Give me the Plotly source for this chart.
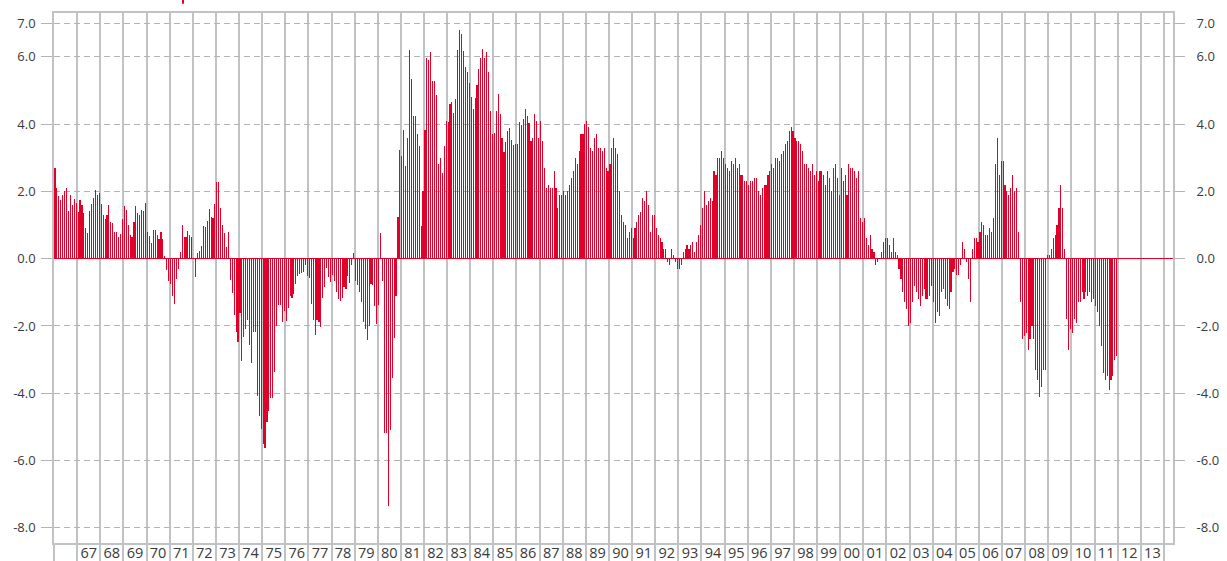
import plotly.graph_objects as go

start_year = 1966
end_year_axis = 2014.39

v1966_1970 = [2.68, 2.11, 1.85, 1.73, 1.88, 2.00, 2.11, 1.43, 1.88, 1.58, 1.76, 1.64,
              1.40, 1.73, 1.58, 1.37, 0.92, 0.77, 1.43, 1.61, 1.79, 2.05, 1.90, 1.96,
              1.61, 1.31, 1.19, 1.31, 1.58, 1.10, 1.07, 0.80, 0.80, 0.65, 0.74, 1.19,
              1.55, 1.46, 1.01, 0.71, 0.65, 1.10, 1.55, 1.37, 1.31, 1.46, 1.43, 1.65,
              0.80, 0.68, 0.48, 0.86, 0.86, 0.71, 0.57, 0.80, 0.57, 0.09, -0.33, -0.65]
v1971_1975 = [-0.74, -1.10, -1.34, -0.60, -0.30, 0.20, 1.01, 0.63, 0.65, 0.83, 0.71, 0.65,
              0.03, -0.54, 0.18, 0.24, 0.39, 0.98, 0.95, 1.13, 1.49, 1.25, 1.22, 1.61,
              2.29, 2.29, 1.52, 1.01, 0.77, 0.36, 0.80, -0.63, -1.01, -1.67, -2.17, -2.47,
              -1.61, -3.04, -2.32, -2.08, -1.82, -2.56, -3.10, -2.17, -2.17, -4.08, -4.67, -5.06,
              -5.51, -5.63, -4.86, -4.52, -4.14, -4.14, -3.36, -1.99, -1.37, -1.37, -1.88, -1.55]
v1976_1980 = [-1.85, -1.46, -1.10, -1.16, -1.04, -0.75, -0.51, -0.45, -0.42, -0.39, -0.18, -0.51,
              -0.57, -1.34, -1.82, -2.26, -1.82, -1.88, -2.02, -1.16, -0.83, -0.27, -0.54, -0.68,
              -0.48, -0.65, -0.98, -1.19, -1.25, -1.16, -0.83, -0.89, -0.51, -0.71, -0.18, 0.18,
              -0.65, -0.77, -0.98, -1.28, -1.88, -2.08, -2.41, -1.99, -0.74, -0.77, -1.40, -1.93,
              -1.37, 0.77, -0.65, -5.18, -5.18, -7.35, -5.09, -3.54, -2.35, -1.10, 1.25, 3.24]
v1981_1985 = [3.04, 3.81, 2.74, 3.60, 6.19, 5.33, 4.23, 4.23, 3.69, 3.36, 0.98, 2.02,
              3.81, 5.95, 5.89, 6.13, 5.27, 5.27, 4.85, 2.80, 2.98, 2.56, 3.36, 4.08,
              4.05, 4.61, 4.67, 4.32, 4.73, 6.19, 6.79, 6.68, 6.16, 5.71, 5.54, 5.21,
              4.79, 4.46, 4.76, 5.15, 5.63, 5.95, 6.22, 5.95, 6.13, 5.54, 4.40, 3.69,
              3.72, 4.38, 4.88, 4.29, 3.60, 3.18, 3.48, 3.78, 3.87, 3.54, 3.39, 3.42]
v1986_1990 = [3.42, 4.05, 3.96, 4.14, 4.46, 4.23, 4.02, 3.50, 3.60, 4.30, 4.10, 3.60,
              4.10, 3.50, 2.70, 2.10, 2.20, 2.10, 2.10, 2.60, 2.10, 1.50, 1.90, 1.90,
              2.00, 1.90, 2.00, 2.20, 2.40, 2.60, 3.00, 2.80, 3.20, 3.70, 3.70, 4.00,
              4.10, 3.90, 3.30, 3.20, 3.60, 3.70, 3.30, 3.30, 3.20, 3.30, 2.70, 2.60,
              2.80, 3.30, 3.60, 3.30, 3.10, 2.00, 1.30, 1.10, 1.00, 0.60, 0.80, 0.90]
v1991_1995 = [0.60, 0.90, 1.10, 1.30, 1.40, 1.80, 1.70, 2.00, 1.60, 0.80, 1.30, 1.30,
              0.90, 0.70, 0.60, 0.50, 0.30, 0.30, -0.10, -0.20, 0.30, 0.10, -0.10, -0.30,
              -0.30, -0.20, 0.20, 0.30, 0.40, 0.30, 0.40, 0.50, 0.20, 0.50, 0.70, 1.00,
              1.50, 2.00, 1.60, 1.70, 1.80, 1.70, 2.60, 2.50, 3.00, 3.00, 3.20, 3.00,
              2.80, 2.70, 2.60, 2.90, 2.80, 3.00, 2.70, 2.80, 2.50, 2.50, 2.30, 2.30]
v1996_2000 = [2.20, 2.30, 2.30, 2.40, 2.40, 2.00, 1.90, 2.10, 2.20, 2.20, 2.50, 2.60,
              2.80, 2.70, 3.00, 3.00, 2.90, 3.10, 3.20, 3.40, 3.50, 3.80, 3.90, 3.80,
              3.60, 3.50, 3.50, 3.40, 3.20, 2.80, 2.80, 2.70, 2.60, 2.80, 2.50, 2.60,
              2.30, 2.60, 2.60, 2.50, 2.20, 2.60, 2.40, 2.00, 2.70, 2.80, 2.40, 1.90,
              2.70, 2.30, 2.50, 1.90, 2.80, 2.70, 2.70, 2.60, 2.40, 2.60, 1.20, 1.10]
v2001_2005 = [1.20, 0.60, 0.40, 0.70, 0.30, 0.20, -0.20, -0.10, 0.00, 0.20, 0.50, 0.60,
              0.60, 0.40, 0.20, 0.60, 0.20, 0.10, -0.30, -0.60, -1.00, -1.30, -1.50, -2.00,
              -1.90, -1.30, -0.80, -1.00, -1.20, -1.40, -1.10, -0.90, -1.20, -1.20, -1.10, -0.80,
              -1.30, -1.90, -1.60, -1.70, -1.00, -0.90, -1.20, -1.40, -1.50, -1.00, -0.40, -0.30,
              -0.50, -0.50, -0.20, 0.50, 0.30, -0.10, -0.60, -1.30, 0.30, 0.60, 0.60, 0.50]
v2006_2011 = [0.80, 1.10, 1.00, 0.70, 0.70, 0.90, 0.80, 1.20, 2.80, 3.60, 2.50, 2.90,
              2.90, 2.20, 2.00, 1.90, 2.10, 2.50, 2.00, 2.10, 0.80, -1.30, -2.40, -2.30,
              -2.20, -2.70, -2.40, -2.00, -2.40, -3.30, -3.60, -4.10, -3.80, -3.30, -3.30, 0.10,
              0.10, 0.30, 0.60, 0.70, 1.00, 1.50, 2.20, 1.50, 0.30, -1.80, -2.70, -2.10,
              -2.20, -1.80, -1.90, -1.30, -1.30, -1.00, -1.20, -1.00, -1.10, -1.00, -1.30, -1.20,
              -1.40, -1.60, -2.00, -2.60, -3.40, -3.60, -3.50, -3.90, -3.60, -3.50, -3.00, -2.90]

values = v1966_1970 + v1971_1975 + v1976_1980 + v1981_1985 + v1986_1990 + v1991_1995 + v1996_2000 + v2001_2005 + v2006_2011
x_months = [start_year + (i + 0.5) / 12 for i in range(len(values))]

year_lines = list(range(1966, 2015))
year_label_years = list(range(1967, 2014))
year_labels = ["%02d" % (y % 100) for y in year_label_years]

y_ticks = [7, 6, 4, 2, 0, -2, -4, -6, -8]
y_tick_labels = ["7.0", "6.0", "4.0", "2.0", "0.0", "-2.0", "-4.0", "-6.0", "-8.0"]
y_range = [-8.45, 7.3]

RED = "rgba(225,0,40,0.999)"
RED_LINE = "#e10028"
GRID_V = "#bfc3c5"
GRID_H = "#b3b3b3"
TXT = "#3a3a3a"

fig = go.Figure()
fig.add_trace(go.Bar(x=x_months, y=values,
                     marker=dict(color=RED, line=dict(width=0)),
                     width=1.0 / 12 * 0.58, hoverinfo="x+y", showlegend=False))
fig.add_trace(go.Scatter(x=[x_months[0]], y=[values[0]], xaxis="x2", yaxis="y2",
                         mode="markers", marker=dict(opacity=0), showlegend=False, hoverinfo="skip"))

fig.update_layout(
    width=1227, height=561,
    margin=dict(l=54, r=54, t=13, b=18, autoexpand=False),
    paper_bgcolor="white", plot_bgcolor="white",
    font=dict(family="Open Sans", color=TXT, size=13),
    bargap=0, bargroupgap=0,
    xaxis=dict(range=[start_year, end_year_axis], tickvals=year_lines, showticklabels=False,
               ticks="outside", ticklen=18, tickcolor=GRID_V, tickwidth=1.5,
               showgrid=True, gridcolor=GRID_V, gridwidth=1.5, automargin=False,
               showline=True, linecolor=GRID_V, linewidth=1.5, mirror=True, zeroline=False),
    xaxis2=dict(range=[start_year, end_year_axis], overlaying="x", anchor="y", side="bottom",
                tickvals=[y + 0.5 for y in year_label_years], ticktext=year_labels,
                ticks="", showgrid=False, showline=False, zeroline=False, automargin=False,
                tickfont=dict(size=14.5, color=TXT), ticklabelstandoff=-1),
    yaxis=dict(range=y_range, tickvals=y_ticks, ticktext=y_tick_labels,
               ticks="outside", ticklen=11, tickcolor=GRID_H, tickwidth=1,
               showgrid=True, gridcolor=GRID_H, gridwidth=1, griddash="6px,4px",
               zeroline=True, zerolinecolor=RED_LINE, zerolinewidth=1.3, automargin=False,
               showline=True, linecolor=GRID_V, linewidth=1.5, mirror=True,
               tickfont=dict(size=13, color=TXT), ticklabelstandoff=3),
    yaxis2=dict(range=y_range, overlaying="y", anchor="x", side="right",
                tickvals=y_ticks, ticktext=y_tick_labels,
                ticks="outside", ticklen=11, tickcolor=GRID_H, tickwidth=1,
                showgrid=False, zeroline=False, showline=False, automargin=False,
                tickfont=dict(size=13, color=TXT), ticklabelstandoff=9),
    shapes=[dict(type="line", xref="paper", yref="paper", x0=0.1153, x1=0.1153,
                 y0=1.0175, y1=1.03, line=dict(color=RED_LINE, width=2))],
)

fig.write_html("out.html", config={"displayModeBar": False},
               post_script="document.body.style.margin='0';document.body.style.padding='0';")
